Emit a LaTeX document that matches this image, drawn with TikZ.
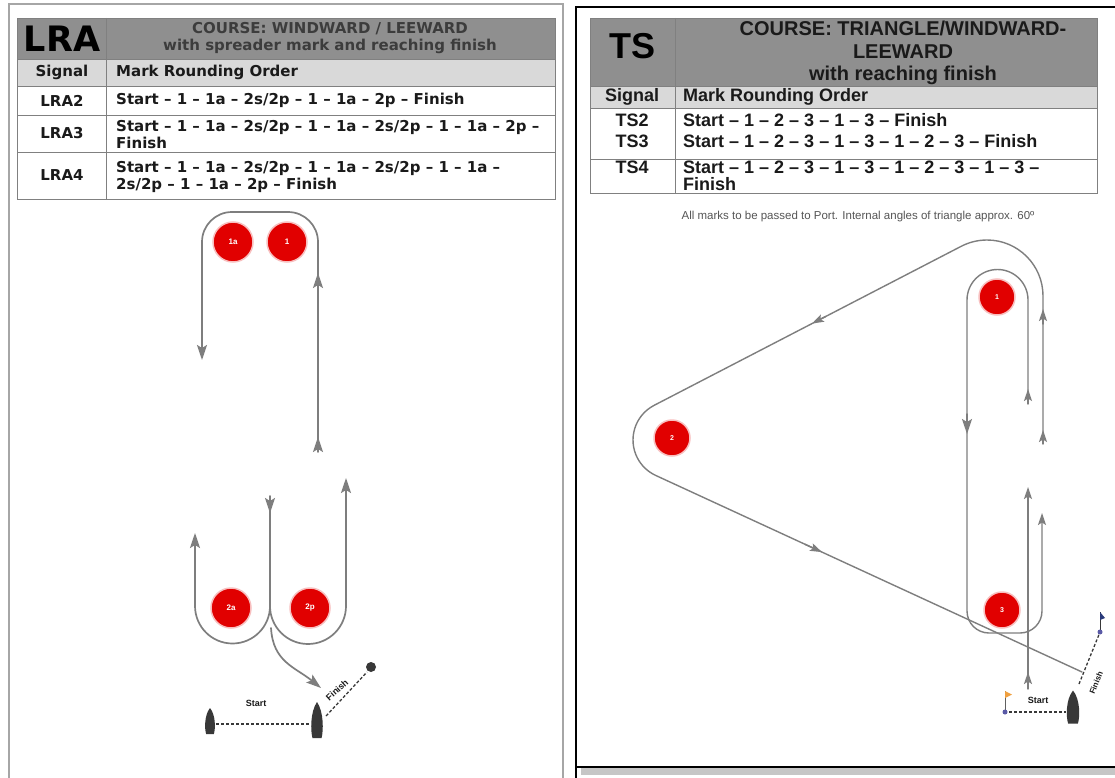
\documentclass[tikz,border=0pt]{standalone}
\usepackage{fontspec}
\setmainfont{Liberation Sans}
\newfontfamily\widefont{DejaVu Sans}
\usepackage{tikz}
\usetikzlibrary{calc,arrows.meta}
\definecolor{ink}{HTML}{1A1A1A}
\definecolor{hdr}{HTML}{8F8F8F}
\definecolor{sub}{HTML}{D9D9D9}
\definecolor{rule}{HTML}{808080}
\definecolor{lane}{HTML}{7E7E7E}
\definecolor{buoy}{HTML}{E10000}
\definecolor{hull}{HTML}{383838}
\definecolor{note}{HTML}{555555}
\definecolor{pinflag}{HTML}{F0A040}
\definecolor{finflag}{HTML}{2A3A7A}
\newcommand{\lsz}{\widefont\bfseries\fontsize{15}{17.5}\selectfont}
\newcommand{\rsz}{\bfseries\fontsize{18}{21}\selectfont}
\newcommand{\hullat}[3]{\fill[hull, shift={(#1)}, x=#2, y=#3] (0,-1) .. controls (1.05,-0.45) and (1.0,0.6) .. (0.7,1) -- (-0.7,1) .. controls (-1.0,0.6) and (-1.05,-0.45) .. (0,-1) -- cycle;}
\tikzset{
  cell/.style={draw=rule, line width=0.8pt},
  course/.style={draw=lane, line width=1.7pt, line cap=round, line join=round},
  arr/.style={-{Stealth[length=15pt,width=10pt,inset=3pt]}},
  arrsm/.style={-{Stealth[length=12pt,width=8pt,inset=2.5pt]}},
  lcell/.style={text=ink, font=\lsz, inner sep=0pt},
  rcell/.style={text=ink, font=\rsz, inner sep=0pt},
  buoyL/.style={circle, fill=buoy, draw=buoy!25, line width=1.5pt, minimum size=40pt, inner sep=0pt, text=white, font=\bfseries\fontsize{8}{8}\selectfont},
  buoyR/.style={buoyL, minimum size=36pt, font=\bfseries\fontsize{7}{7}\selectfont},
  tag/.style={text=ink, font=\bfseries\fontsize{9}{9}\selectfont, inner sep=0pt},
  lineup/.style={draw=hull, line width=1.3pt, dash pattern=on 3pt off 2pt},
}
\begin{document}
\begin{tikzpicture}[x=1pt, y=-1pt]
  \useasboundingbox (0,0) rectangle (1115,778);
  \fill[white] (0,0) rectangle (1115,778);
  \draw[draw=gray!70, line width=2.5pt] (9,800) |- (563,4) -- (563,800);
  \fill[gray!45] (581,768) rectangle (1120,775);
  \draw[black, line width=2pt] (576,800) |- (1120,7);
  \draw[black, line width=2pt] (576,767) -- (1120,767);

  % LRA table
  \fill[hdr] (17,18) rectangle (555,59);
  \fill[sub] (17,59) rectangle (555,86);
  \foreach \yy in {59,86,115,152} \draw[cell] (17,\yy) -- (555,\yy);
  \draw[cell] (106,18) -- (106,199);
  \draw[cell] (17,18) rectangle (555,199);
  \node[lcell, text=black, font=\widefont\bfseries\fontsize{35}{35}\selectfont] (lra) at (62,39) {LRA};
  \node[lcell, text=ink!85, align=center] (lcourse) at (330,38) {COURSE: WINDWARD / LEEWARD\\with spreader mark and reaching finish};
  \node[lcell] (lsig) at (62,72.5) {Signal};
  \node[lcell, anchor=west] (lmro) at (116,72.5) {Mark Rounding Order};
  \node[lcell] (lra2) at (62,100.5) {LRA2};
  \node[lcell, anchor=west] (lra2r) at (116,100.5) {Start – 1 – 1a – 2s/2p – 1 – 1a – 2p – Finish};
  \node[lcell] (lra3) at (62,133.5) {LRA3};
  \node[lcell, anchor=west, align=left] (lra3r) at (116,134.5) {Start – 1 – 1a – 2s/2p – 1 – 1a – 2s/2p – 1 – 1a – 2p –\\Finish};
  \node[lcell] (lra4) at (62,175.5) {LRA4};
  \node[lcell, anchor=west, align=left] (lra4r) at (116,177) {Start – 1 – 1a – 2s/2p – 1 – 1a – 2s/2p – 1 – 1a –\\2s/2p – 1 – 1a – 2p – Finish};

  % TS table
  \fill[hdr] (590,18) rectangle (1097,86);
  \fill[sub] (590,86) rectangle (1097,108);
  \foreach \yy in {86,108,159} \draw[cell] (590,\yy) -- (1097,\yy);
  \draw[cell] (675,18) -- (675,193);
  \draw[cell] (590,18) rectangle (1097,193);
  \node[rcell, text=black, font=\bfseries\fontsize{36}{36}\selectfont] (ts) at (632,46) {TS};
  \node[rcell, font=\bfseries\fontsize{20}{22.5}\selectfont, align=center] (rcourse) at (903,53) {COURSE: TRIANGLE/WINDWARD-\\LEEWARD\\with reaching finish};
  \node[rcell] (rsig) at (632,97) {Signal};
  \node[rcell, anchor=west] (rmro) at (683,97) {Mark Rounding Order};
  \node[rcell] (ts2) at (632,120) {TS2};
  \node[rcell, anchor=west] (ts2r) at (683,120) {Start – 1 – 2 – 3 – 1 – 3 – Finish};
  \node[rcell] (ts3) at (632,141) {TS3};
  \node[rcell, anchor=west] (ts3r) at (683,141) {Start – 1 – 2 – 3 – 1 – 3 – 1 – 2 – 3 – Finish};
  \node[rcell] (ts4) at (632,167) {TS4};
  \node[rcell, anchor=west, align=left, font=\bfseries\fontsize{18}{17}\selectfont] (ts4r) at (683,176) {Start – 1 – 2 – 3 – 1 – 3 – 1 – 2 – 3 – 1 – 3 –\\Finish};
  \node[text=note, font=\fontsize{11.5}{13}\selectfont] (port) at (858,217) {All marks to be passed to Port. Internal angles of triangle approx. 60º};

  % LRA course
  \draw[course, arr, rounded corners=30pt] (318,450) |- (202,212) -- (202,360);
  \draw[course, arr] (318,292) -- (318,273);
  \draw[course, arr] (318,452) -- (318,437);
  \draw[course, arr] (270,498) -- (270,606) arc[start angle=0, end angle=180, radius=37.5] -- (195,533);
  \draw[course, arr] (270,606) arc[start angle=180, end angle=0, radius=38] -- (346,478);
  \draw[course, arr] (270,496) -- (270,513);
  \draw[course, arr] (271,628) .. controls (273,662) and (295,667) .. (321,688);

  \node[buoyL] (m1a) at (233,242) {1a};
  \node[buoyL] (m1) at (287,242) {1};
  \node[buoyL] (m2a) at (231,608) {2a};
  \node[buoyL] (m2p) at (310,608) {2p};

  \hullat{210,721}{5.5pt}{-13pt}
  \hullat{317,720}{6.5pt}{-18pt}
  \coordinate (lpin) at (216,724);
  \coordinate (lcb) at (310,724);
  \coordinate (lfb) at (326,716);
  \coordinate (lball) at (371,667);
  \draw[lineup] (lpin) -- (lcb);
  \draw[lineup] (lfb) -- ($(lball)+(-4,5)$);
  \fill[hull] (lball) circle (5);
  \node[tag] (lstart) at (256,703) {Start};
  \node[tag, rotate=42] (lfinish) at (337,690) {Finish};

  % TS course
  \coordinate (o1) at (987,296);
  \coordinate (o2) at (672,440);
  \begin{scope}[course/.append style={line width=1.4pt}]
  \draw[course] (1043,443) -- (1043,296) arc[start angle=0, end angle=-117.8, radius=56] coordinate (ua)
    -- ($(o2)+(242.2:39)$) coordinate (ub) arc[start angle=242.2, end angle=114.5, radius=39] coordinate (la)
    -- (1082,672) coordinate (lb);
  \draw[course, arrsm] ($(ua)!0.44!(ub)$) -- ($(ua)!0.485!(ub)$);
  \draw[course, arrsm] ($(la)!0.35!(lb)$) -- ($(la)!0.39!(lb)$);
  \draw[course, arrsm] (1028,403) -- (1028,300) arc[start angle=0, end angle=-180, radius=30.5]
    [rounded corners=22pt] -- (967,633) -- (1042,633) -- (1042,513);
  \draw[course, arrsm] (1028,404) -- (1028,389);
  \draw[course, arr] (967,414) -- (967,434);
  \draw[course, arrsm] (1043,324) -- (1043,309);
  \draw[course, arrsm] (1043,444) -- (1043,430);
  \draw[course, arrsm] (1028,688) -- (1028,487);
  \draw[course, arrsm] (1028,689) -- (1028,672);
  \end{scope}

  \node[buoyR] (t1) at (997,297) {1};
  \node[buoyR] (t2) at (672,438) {2};
  \node[buoyR] (t3) at (1002,610) {3};

  \coordinate (rpin) at (1005,712);
  \coordinate (rcb) at (1066,712);
  \coordinate (rfb) at (1079,684);
  \coordinate (rpost) at (1100,632);
  \draw[hull!80, line width=0.8pt] (rpin) -- ++(0,-21);
  \fill[pinflag] ($(rpin)+(0,-21)$) -- ++(7,3.5) -- ++(-7,3.5) -- cycle;
  \fill[rule!70!blue] (rpin) circle (2.5);
  \draw[lineup] ($(rpin)+(4,0)$) -- (rcb);
  \hullat{1073,707}{7pt}{-16.5pt}
  \draw[lineup] (rfb) -- (rpost);
  \draw[hull, line width=0.8pt] (rpost) -- ++(0,-20);
  \fill[finflag] ($(rpost)+(0,-20)$) -- ++(5,6) -- ++(-5,2) -- cycle;
  \fill[rule!70!blue] (rpost) circle (2.5);
  \node[tag] (rstart) at (1038,700) {Start};
  \node[tag, rotate=68, font=\bfseries\fontsize{8}{8}\selectfont] (rfinish) at (1096,683) {Finish};
\end{tikzpicture}
\end{document}
